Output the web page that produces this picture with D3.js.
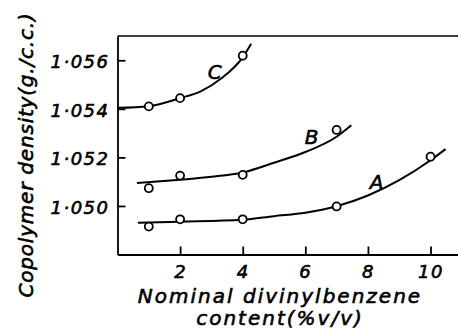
<!DOCTYPE html>
<html>
<head>
<meta charset="utf-8">
<script src="https://cdn.jsdelivr.net/npm/d3@7"></script>
<style>
  html, body { margin: 0; padding: 0; background: #fff; }
  svg { display: block; }
  text { font-family: "DejaVu Sans", sans-serif; font-style: italic; fill: #000; stroke: #000; stroke-width: 0.6px; }
</style>
</head>
<body>
<svg id="chart" width="458" height="330"></svg>
<script>
// ---- data ----
const xTicks = [2, 4, 6, 8, 10];
const yTicks = [1.050, 1.052, 1.054, 1.056];
const seriesNames = ["A", "B", "C"];
const xA = [1, 2, 4, 7, 10];
const yA = [1.04915, 1.04945, 1.04945, 1.04998, 1.05203];
const xB = [1, 2, 4, 7];
const yB = [1.05073, 1.05125, 1.05128, 1.05313];
const xC = [1, 2, 4];
const yC = [1.0541, 1.05444, 1.05619];
// fitted (hand-drawn) curves
const curveAx = [0.65, 2, 4, 5, 6, 7, 8, 9, 10, 10.48];
const curveAy = [1.04931, 1.04935, 1.04943, 1.04958, 1.04972, 1.04999, 1.05043, 1.05106, 1.05188, 1.05234];
const curveBx = [0.62, 2, 3, 4, 5, 6, 7, 7.47];
const curveBy = [1.05094, 1.05108, 1.0512, 1.05138, 1.05178, 1.05222, 1.05285, 1.05332];
const curveCx = [0, 1, 2, 2.66, 3.3, 4, 4.27];
const curveCy = [1.05404, 1.05411, 1.05444, 1.05472, 1.05524, 1.05612, 1.05668];
const labelPos = { A: [8.28, 1.0510], B: [6.2, 1.05285], C: [3.11, 1.05553] };

// ---- scales ----
const svg = d3.select("#chart");
const x = d3.scaleLinear().domain([0, 10.9]).range([117.5, 458.7]);
const y = d3.scaleLinear().domain([1.048, 1.057]).range([254.5, 36]);

const axisColor = "#000";

// frame top line
svg.append("line")
  .attr("x1", x(0)).attr("x2", 458)
  .attr("y1", y(1.057)).attr("y2", y(1.057))
  .attr("stroke", axisColor).attr("stroke-width", 1.6);

// y axis
const gy = svg.append("g").attr("transform", `translate(${x(0)},0)`)
  .call(d3.axisLeft(y).tickValues(yTicks).tickSize(-8).tickSizeOuter(0).tickPadding(8)
    .tickFormat(d => d3.format(".3f")(d).replace(".", "·")));
gy.select(".domain").attr("stroke-width", 1.8);
gy.selectAll(".tick line").attr("stroke-width", 1.8);
gy.selectAll(".tick text").attr("font-size", 18).attr("letter-spacing", 1.5)
  .attr("font-family", "DejaVu Sans").attr("dy", "0.42em");

// x axis
const gx = svg.append("g").attr("transform", `translate(0,${y(1.048)})`)
  .call(d3.axisBottom(x).tickValues(xTicks).tickSize(-8).tickSizeOuter(0).tickPadding(11));
gx.select(".domain").attr("stroke-width", 1.8);
gx.selectAll(".tick line").attr("stroke-width", 1.8);
gx.selectAll(".tick text").attr("font-size", 18).attr("letter-spacing", 1.5)
  .attr("font-family", "DejaVu Sans");

// curves
const line = d3.line().x(d => x(d[0])).y(d => y(d[1])).curve(d3.curveMonotoneX);
const curves = [
  d3.zip(curveAx, curveAy),
  d3.zip(curveBx, curveBy),
  d3.zip(curveCx, curveCy)
];
svg.append("g").selectAll("path").data(curves).join("path")
  .attr("d", line).attr("fill", "none").attr("stroke", "#000").attr("stroke-width", 2);

// points
const pts = [].concat(
  d3.zip(xA, yA), d3.zip(xB, yB), d3.zip(xC, yC)
);
svg.append("g").selectAll("circle").data(pts).join("circle")
  .attr("cx", d => x(d[0])).attr("cy", d => y(d[1])).attr("r", 4)
  .attr("fill", "#fff").attr("stroke", "#000").attr("stroke-width", 1.8);

// curve labels
svg.append("g").selectAll("text").data(seriesNames).join("text")
  .attr("x", d => x(labelPos[d][0])).attr("y", d => y(labelPos[d][1]))
  .attr("text-anchor", "middle").attr("dy", "0.36em")
  .attr("font-size", 20).text(d => d);

// axis titles
svg.append("text").attr("x", 280).attr("y", 303).attr("text-anchor", "middle")
  .attr("font-size", 20).attr("letter-spacing", 2).text("Nominal divinylbenzene");
svg.append("text").attr("x", 280).attr("y", 325).attr("text-anchor", "middle")
  .attr("font-size", 20).attr("letter-spacing", 2).text("content(%v/v)");
svg.append("text").attr("transform", "translate(33,155) rotate(-90)")
  .attr("text-anchor", "middle").attr("font-size", 20).attr("letter-spacing", 0.8)
  .text("Copolymer density(g./c.c.)");
</script>
</body>
</html>
